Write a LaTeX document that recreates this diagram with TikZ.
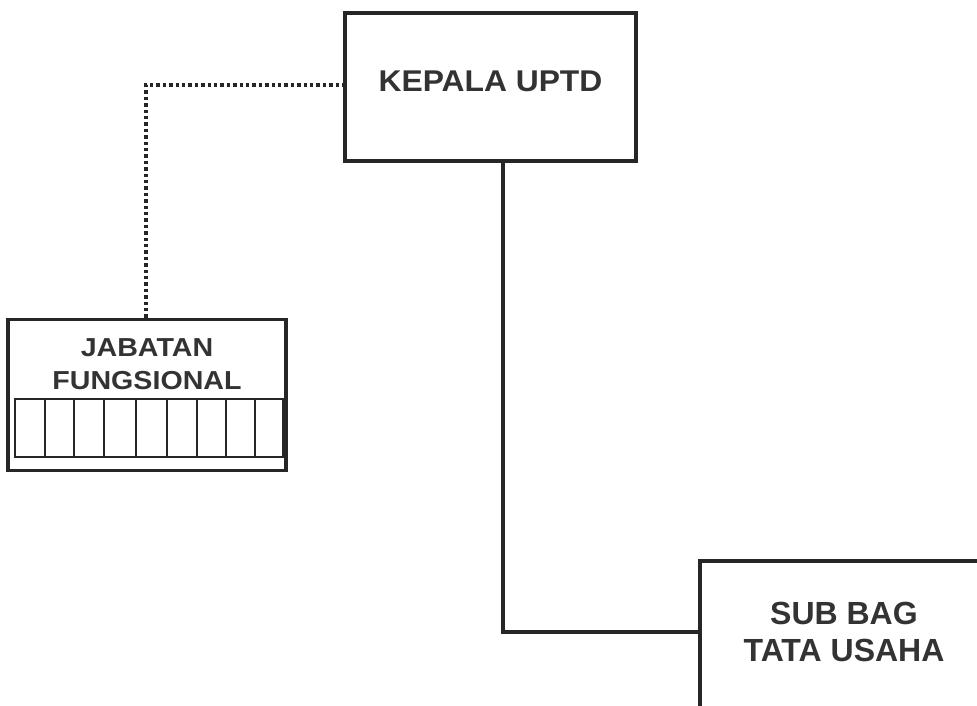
\documentclass[tikz,border=0pt]{standalone}
\usepackage{fontspec}
\usepackage{graphicx}
\setmainfont{Liberation Sans}
\definecolor{ink}{HTML}{262626}
\definecolor{txt}{HTML}{333333}
\begin{document}
\begin{tikzpicture}[x=1pt,y=-1pt,
  box/.style={draw=ink,line width=3.4pt,inner sep=0pt,fill=white},
  lbl/.style={text=txt,align=center,inner sep=0pt},
  conn/.style={draw=ink,line width=3.4pt},
  dotline/.style={draw=ink,line width=3.4pt,dash pattern=on 3.4pt off 3pt}]
\useasboundingbox (0,0) rectangle (977,706);
\clip (0,0) rectangle (977,706);
% boxes
\node[box,minimum width=291pt,minimum height=148pt] (kepala) at (490.5,87) {};
\node[lbl,font=\bfseries\fontsize{30}{36}\selectfont] (kepalat) at (490.5,81) {\scalebox{1.06}[1]{KEPALA UPTD}};
\node[box,minimum width=278pt,minimum height=151pt] (jab) at (147,395) {};
\node[lbl,font=\bfseries\fontsize{26}{33}\selectfont] (jabt) at (147,364) {\scalebox{1.1}[1]{JABATAN}\\\scalebox{1.1}[1]{FUNGSIONAL}};
\node[box,minimum width=300pt,minimum height=170pt] (sub) at (850,646) {};
\node[lbl,font=\bfseries\fontsize{32}{37}\selectfont] (subt) at (844,632) {SUB BAG\\TATA USAHA};
% grid inside JABATAN
\draw[ink,line width=1.3pt] (15,399) rectangle (283,457);
\foreach \gx in {45,74,104,136,167,197,226,255}
  \draw[ink,line width=1.3pt] (\gx,399) -- (\gx,457);
% connectors
\coordinate (c1) at (146,85);
\coordinate (c2) at (503,632);
\draw[dotline] (jab.north -| c1) -- (c1) -- (c1 -| kepala.west);
\draw[conn] (kepala.south -| c2) -- (c2) -- (c2 -| sub.west);
\end{tikzpicture}
\end{document}
